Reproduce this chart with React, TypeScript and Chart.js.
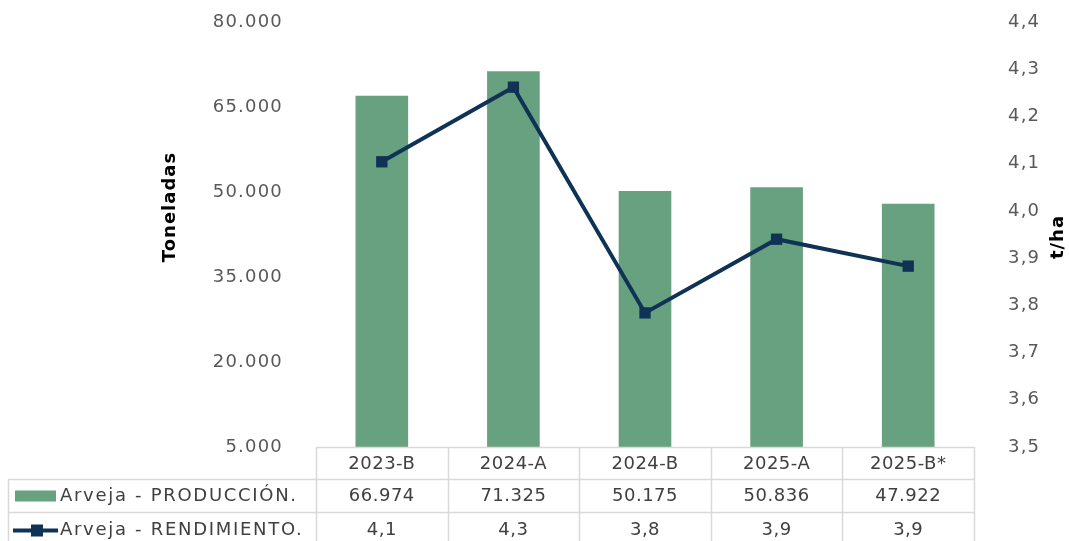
import React, { useEffect, useRef } from 'react';
import { Chart, registerables } from 'chart.js';

Chart.register(...registerables);

const categories = ['2023-B', '2024-A', '2024-B', '2025-A', '2025-B*'];
const produccion = [66974, 71325, 50175, 50836, 47922];
const rendimiento = [4.104, 4.262, 3.784, 3.94, 3.883];
const leftTicks = [5000, 20000, 35000, 50000, 65000, 80000];
const rightTicks = [3.5, 3.6, 3.7, 3.8, 3.9, 4.0, 4.1, 4.2, 4.3, 4.4];
const seriesNames = ['Arveja - PRODUCCIÓN.', 'Arveja - RENDIMIENTO.'];
const axisTitles = ['Toneladas', 't/ha'];

const BAR_COLOR = '#68A17F';
const LINE_COLOR = '#0F3255';
const TEXT_COLOR = '#404040';
const TICK_COLOR = '#595959';
const GRID_COLOR = '#D9D9D9';
const FONT = '"DejaVu Sans", sans-serif';

const fmtThousands = (v: number) =>
  Math.round(v).toString().replace(/\B(?=(\d{3})+(?!\d))/g, '.');
const fmtDecimal = (v: number) => v.toFixed(1).replace('.', ',');

const spacingPlugin = {
  id: 'tickSpacing',
  beforeDraw(chart: any) {
    (chart.ctx as any).letterSpacing = '1.2px';
  },
};

const tablePlugin = {
  id: 'dataTable',
  afterDraw(chart: any) {
    const ctx = chart.ctx as any;
    const area = chart.chartArea;
    const n = categories.length;
    const colW = (area.right - area.left) / n;
    const legendLeft = 8;
    const y0 = area.bottom;
    const y1 = y0 + 32;
    const y2 = y1 + 33;
    const y3 = y2 + 33;

    ctx.save();
    ctx.letterSpacing = '0px';
    ctx.strokeStyle = GRID_COLOR;
    ctx.lineWidth = 1.5;
    ctx.beginPath();
    ctx.moveTo(area.left, y0 + 0.5);
    ctx.lineTo(area.right, y0 + 0.5);
    ctx.moveTo(legendLeft, y1 + 0.5);
    ctx.lineTo(area.right, y1 + 0.5);
    ctx.moveTo(legendLeft, y2 + 0.5);
    ctx.lineTo(area.right, y2 + 0.5);
    ctx.moveTo(legendLeft, y3 + 0.5);
    ctx.lineTo(area.right, y3 + 0.5);
    for (let i = 0; i <= n; i++) {
      const x = Math.round(area.left + i * colW) + 0.5;
      ctx.moveTo(x, y0);
      ctx.lineTo(x, y3);
    }
    ctx.moveTo(legendLeft + 0.5, y1);
    ctx.lineTo(legendLeft + 0.5, y3);
    ctx.stroke();

    ctx.fillStyle = TEXT_COLOR;
    ctx.font = `18px ${FONT}`;
    ctx.letterSpacing = '0.5px';
    ctx.textAlign = 'center';
    ctx.textBaseline = 'middle';
    for (let i = 0; i < n; i++) {
      const cx = area.left + (i + 0.5) * colW;
      ctx.fillText(categories[i], cx, (y0 + y1) / 2 + 1);
      ctx.fillText(fmtThousands(produccion[i]), cx, (y1 + y2) / 2 + 1);
      ctx.fillText(fmtDecimal(rendimiento[i]), cx, (y2 + y3) / 2 + 2);
    }

    // legend keys
    ctx.fillStyle = BAR_COLOR;
    ctx.fillRect(15, (y1 + y2) / 2 - 5, 41, 11);
    const ly = (y2 + y3) / 2 + 2;
    ctx.strokeStyle = LINE_COLOR;
    ctx.lineWidth = 4;
    ctx.beginPath();
    ctx.moveTo(13, ly);
    ctx.lineTo(58, ly);
    ctx.stroke();
    ctx.fillStyle = LINE_COLOR;
    ctx.fillRect(31, ly - 6, 12, 12);

    ctx.fillStyle = TEXT_COLOR;
    ctx.textAlign = 'left';
    ctx.letterSpacing = '1.7px';
    ctx.fillText(seriesNames[0], 60, (y1 + y2) / 2 + 1);
    ctx.fillText(seriesNames[1], 60, (y2 + y3) / 2 + 2);

    // axis titles
    ctx.fillStyle = '#000000';
    ctx.font = `bold 18px ${FONT}`;
    ctx.letterSpacing = '1px';
    ctx.textAlign = 'center';
    ctx.save();
    ctx.translate(170, 207);
    ctx.rotate(-Math.PI / 2);
    ctx.fillText(axisTitles[0], 0, 0);
    ctx.restore();
    ctx.save();
    ctx.translate(1058, 237);
    ctx.rotate(-Math.PI / 2);
    ctx.fillText(axisTitles[1], 0, 0);
    ctx.restore();

    ctx.restore();
  },
};

export default function App() {
  const ref = useRef<HTMLCanvasElement | null>(null);

  useEffect(() => {
    document.body.style.margin = '0';
    const canvas = ref.current;
    if (!canvas) return;
    const chart = new Chart(canvas, {
      type: 'bar',
      data: {
        labels: categories,
        datasets: [
          {
            type: 'line',
            label: seriesNames[1],
            data: rendimiento,
            yAxisID: 'y1',
            borderColor: LINE_COLOR,
            backgroundColor: LINE_COLOR,
            borderWidth: 4,
            pointStyle: 'rect',
            pointRadius: 8,
            pointBorderWidth: 0,
            tension: 0,
            order: 0,
          } as any,
          {
            type: 'bar',
            label: seriesNames[0],
            data: produccion,
            yAxisID: 'y',
            backgroundColor: BAR_COLOR,
            categoryPercentage: 1,
            barPercentage: 0.4,
            order: 1,
          },
        ],
      },
      options: {
        responsive: false,
        animation: false,
        devicePixelRatio: 1,
        layout: { padding: { left: 0, right: 0, top: 22, bottom: 94 } },
        plugins: {
          legend: { display: false },
          tooltip: { enabled: false },
          title: { display: false },
        },
        scales: {
          x: {
            display: false,
            offset: true,
            grid: { display: false },
          },
          y: {
            position: 'left',
            min: 5000,
            max: 80000,
            grid: { display: false },
            border: { display: false },
            afterFit: (s: any) => {
              s.width = 316;
              s.paddingTop = 0;
              s.paddingBottom = 0;
            },
            afterBuildTicks: (s: any) => {
              s.ticks = leftTicks.map((v) => ({ value: v }));
            },
            ticks: {
              padding: 25,
              color: TICK_COLOR,
              font: { family: FONT, size: 18 },
              callback: (v: any) => fmtThousands(Number(v)),
            },
          },
          y1: {
            position: 'right',
            min: 3.5,
            max: 4.4,
            grid: { display: false },
            border: { display: false },
            afterFit: (s: any) => {
              s.width = 95;
              s.paddingTop = 0;
              s.paddingBottom = 0;
            },
            afterBuildTicks: (s: any) => {
              s.ticks = rightTicks.map((v) => ({ value: v }));
            },
            ticks: {
              padding: 26,
              color: TICK_COLOR,
              font: { family: FONT, size: 18 },
              callback: (v: any) => fmtDecimal(Number(v)),
            },
          },
        },
      },
      plugins: [spacingPlugin, tablePlugin],
    });
    return () => chart.destroy();
  }, []);

  return (
    <div style={{ width: 1069, height: 541, overflow: 'hidden' }}>
      <canvas ref={ref} width={1069} height={541} style={{ display: 'block' }} />
    </div>
  );
}
